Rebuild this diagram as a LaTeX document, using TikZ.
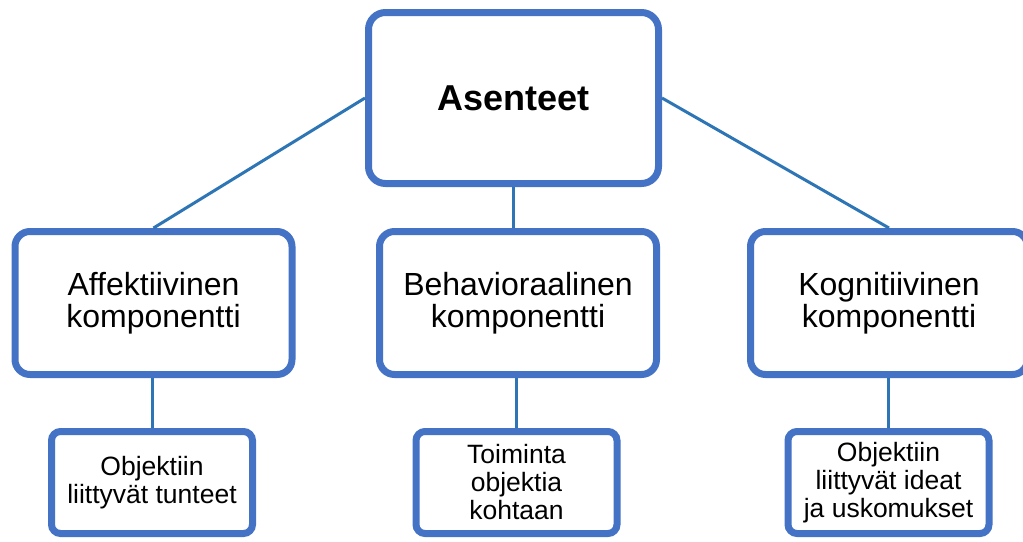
\documentclass[tikz,border=0pt]{standalone}
\usepackage{fontspec}
\setmainfont{Liberation Sans}
\usetikzlibrary{positioning}
\definecolor{boxblue}{HTML}{4472C4}
\definecolor{lineblue}{HTML}{2E75B6}
\tikzset{
  mainbox/.style={
    rectangle,
    rounded corners=17pt,
    draw=boxblue, line width=7pt,
    fill=white,
    minimum width=290pt,
    minimum height=171pt,
    inner sep=0pt,
    align=center,
    font=\fontsize{36}{40}\selectfont\bfseries},
  compbox/.style={
    rectangle,
    rounded corners=15pt,
    draw=boxblue, line width=7pt,
    fill=white,
    minimum width=277pt,
    minimum height=143pt,
    inner sep=0pt,
    align=center,
    font=\fontsize{32}{32.5}\selectfont},
  descbox/.style={
    rectangle,
    rounded corners=9pt,
    draw=boxblue, line width=7pt,
    fill=white,
    minimum width=201pt,
    minimum height=102pt,
    inner sep=0pt,
    align=center,
    font=\fontsize{26.5}{28}\selectfont},
  link/.style={draw=lineblue, line width=3pt},
}

\begin{document}
\begin{tikzpicture}[x=1pt, y=-1pt]
    \useasboundingbox (0,0) rectangle (1023,541);

    %top
    \node[mainbox] (asenteet) at (513.5,98) {Asenteet};

    %components
    \node[compbox] (affekt) at (153.5,303) {Affektiivinen\\komponentti};
    \node[compbox] (behav) at (518,303) {Behavioraalinen\\komponentti};
    \node[compbox] (kogn) at (889,303) {Kognitiivinen\\komponentti};

    %descriptions
    \node[descbox] (tunteet) at (152,482.5) {Objektiin\\liittyvät tunteet};
    \node[descbox] (toiminta) at (516.5,482.5) {Toiminta\\objektia\\kohtaan};
    \node[descbox] (ideat) at (888.5,482.5) {Objektiin\\liittyvät ideat\\ja uskomukset};

    %connections
    \draw[link] (asenteet.west) -- (affekt.north);
    \draw[link] (asenteet.south) -- (asenteet.south |- behav.north);
    \draw[link] (asenteet.east) -- (kogn.north);

    \draw[link] (affekt.south -| tunteet.north) -- (tunteet.north);
    \draw[link] (behav.south -| toiminta.north) -- (toiminta.north);
    \draw[link] (kogn.south -| ideat.north) -- (ideat.north);
\end{tikzpicture}
\end{document}
